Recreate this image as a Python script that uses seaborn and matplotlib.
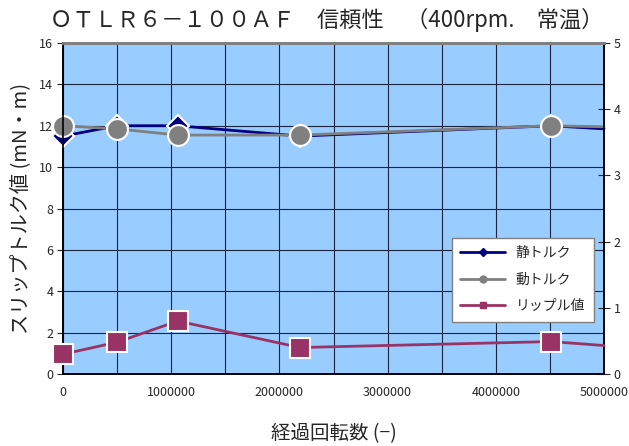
import numpy as np
import pandas as pd
import matplotlib
matplotlib.use("Agg")
import matplotlib.pyplot as plt
import seaborn as sns
from matplotlib.lines import Line2D
from matplotlib.ticker import MultipleLocator

# data (last entry = value where the line meets the right edge)
revolutions = [0, 500000, 1060000, 2190000, 4510000, 5000000]
static_torque = [11.5, 12.0, 12.0, 11.5, 12.0, 11.85]
dynamic_torque = [12.0, 11.85, 11.55, 11.55, 12.0, 11.95]
ripple = [0.30, 0.48, 0.80, 0.40, 0.49, 0.43]
measured = [0, 1, 2, 3, 4]

df = pd.DataFrame({"rev": revolutions, "static": static_torque,
                   "dynamic": dynamic_torque, "ripple": ripple})

sns.set_style("white")
plt.rcParams["font.family"] = ["Noto Sans CJK JP", "DejaVu Sans"]

fig = plt.figure(figsize=(6.29, 4.46), dpi=100)
ax = fig.add_axes([63 / 629, 1 - 374 / 446, 541 / 629, 331 / 446])
ax.set_facecolor("#99CCFF")

navy = "#000080"
gray = "#808080"
plum = "#993366"

sns.lineplot(data=df, x="rev", y="static", ax=ax, color=navy, lw=2,
             marker="D", markersize=11, markeredgecolor="white",
             markeredgewidth=1.5, markevery=measured, clip_on=False, zorder=3)
sns.lineplot(data=df, x="rev", y="dynamic", ax=ax, color=gray, lw=2,
             marker="o", markersize=15, markeredgecolor="white",
             markeredgewidth=1.5, markevery=measured, clip_on=False, zorder=4)

ax.set_xlim(0, 5000000)
ax.set_ylim(0, 16)
ax.xaxis.set_major_locator(MultipleLocator(1000000))
ax.xaxis.set_minor_locator(MultipleLocator(500000))
ax.yaxis.set_major_locator(MultipleLocator(2))
ax.grid(True, which="both", color="#1c2540", lw=0.8)
ax.set_axisbelow(True)
ax.ticklabel_format(axis="x", style="plain")
ax.tick_params(axis="x", which="major", direction="out", length=4, labelsize=9, pad=5)
ax.tick_params(axis="x", which="minor", length=0)
ax.tick_params(axis="y", direction="out", length=4, labelsize=9, pad=3)
ax.set_xlabel("経過回転数 (−)", fontsize=14, labelpad=17)
ax.set_ylabel("スリップトルク値 (mN・m)", fontsize=14.5, labelpad=6)

ax2 = ax.twinx()
sns.lineplot(data=df, x="rev", y="ripple", ax=ax2, color=plum, lw=2,
             marker="s", markersize=15, markeredgecolor="white",
             markeredgewidth=1.5, markevery=measured, clip_on=False, zorder=3)
ax2.set_ylim(0, 5)
ax2.set_ylabel("")
ax2.yaxis.set_major_locator(MultipleLocator(1))
ax2.tick_params(axis="y", direction="inout", length=8, labelsize=9, pad=3)

for a in (ax, ax2):
    for side in ("left", "bottom", "right"):
        a.spines[side].set_color("black")
        a.spines[side].set_linewidth(1.2)
    a.spines["top"].set_color("#808080")
    a.spines["top"].set_linewidth(2)

handles = [
    Line2D([], [], color=navy, lw=2, marker="D", markersize=4),
    Line2D([], [], color=gray, lw=2, marker="o", markersize=5),
    Line2D([], [], color=plum, lw=2, marker="s", markersize=5),
]
leg = ax2.legend(handles, ["静トルク", "動トルク", "リップル値"],
                 loc="upper left", bbox_to_anchor=(445 / 629, 1 - 231 / 446),
                 bbox_transform=fig.transFigure, fontsize=10, frameon=True,
                 fancybox=False, edgecolor="#808080", framealpha=1,
                 handlelength=3.2, labelspacing=0.9, borderpad=0.6)
leg.get_frame().set_linewidth(1)

fig.text(0.52, 1 - 20 / 446, "ＯＴＬＲ６－１００ＡＦ　信頼性　（400rpm.　常温）",
         ha="center", va="center", fontsize=16)

fig.savefig("out.png", dpi=100)
